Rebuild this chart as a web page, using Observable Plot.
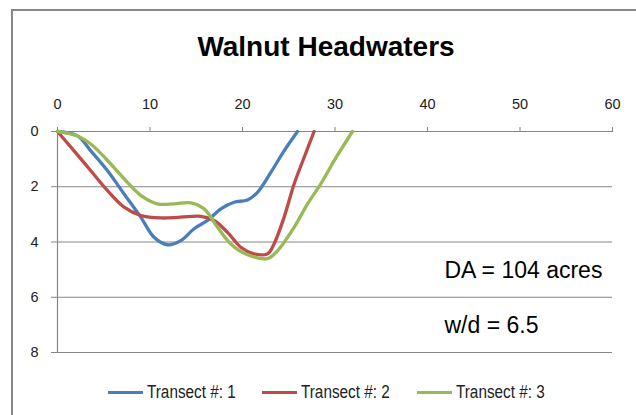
<!DOCTYPE html>
<html>
<head>
<meta charset="utf-8">
<script src="https://cdn.jsdelivr.net/npm/d3@7"></script>
<script src="https://cdn.jsdelivr.net/npm/@observablehq/plot@0.6"></script>
<style>
  html, body { margin: 0; padding: 0; background: #fff; overflow: hidden; }
  #wrap { position: relative; width: 636px; height: 415px; overflow: hidden; }
  #border { position: absolute; left: 11px; top: 9px; width: 700px; height: 500px;
            border: 2.5px solid #878787; box-sizing: border-box; pointer-events: none; }
  #chart { position: absolute; left: 0; top: 0; }
  .item { position: absolute; top: 381px; height: 22px; display: flex; align-items: center;
          font-family: "Liberation Sans", Arial, sans-serif; font-size: 18px; color: #222; white-space: nowrap; }
  .swatch { width: 35px; height: 3px; margin-right: 4px; }
  .lab { display: inline-block; transform: scaleX(0.85); transform-origin: left center; }
</style>
</head>
<body>
<div id="wrap">
  <div id="chart"></div>
  <div id="border"></div>
</div>
<script>
// Transect 1 (blue)
const t1x = [0, 2.16, 3.6, 5.41, 7.2, 9.0, 10.44, 11.89, 13.33, 14.77, 16.22, 17.66, 19.09, 20.54, 21.62, 23.06, 24.5, 25.95];
const t1d = [0, 0.16, 0.70, 1.42, 2.26, 3.1, 3.83, 4.1, 3.95, 3.52, 3.22, 2.8, 2.56, 2.48, 2.2, 1.48, 0.7, 0];
// Transect 2 (red)
const t2x = [0, 1.79, 3.6, 5.41, 7.2, 9.0, 11.17, 13.33, 15.5, 16.93, 18.38, 19.82, 21.25, 22.7, 23.42, 24.5, 25.58, 26.66, 27.74];
const t2d = [0, 0.7, 1.42, 2.14, 2.74, 3.04, 3.13, 3.1, 3.07, 3.22, 3.65, 4.19, 4.43, 4.43, 4.06, 3.1, 1.9, 0.94, 0];
// Transect 3 (green)
const t3x = [0, 2.16, 3.6, 5.41, 7.2, 9.0, 10.81, 12.6, 14.41, 15.85, 17.3, 18.74, 20.54, 22.7, 23.78, 25.58, 27.03, 28.46, 29.9, 31.89];
const t3d = [0, 0.16, 0.45, 1.05, 1.71, 2.31, 2.62, 2.62, 2.58, 2.8, 3.47, 4.07, 4.46, 4.6, 4.32, 3.47, 2.62, 1.9, 1.06, 0];

const seriesNames = ["Transect #: 1", "Transect #: 2", "Transect #: 3"];
const seriesColors = ["#4A7EBB", "#BE4B48", "#98B954"];
const xTicks = [0, 10, 20, 30, 40, 50, 60];
const yTicks = [0, 2, 4, 6, 8];
const titleText = "Walnut Headwaters";
const notes = ["DA = 104 acres", "w/d = 6.5"];

const series = [[t1x, t1d], [t2x, t2d], [t3x, t3d]];
const data = series.flatMap(([xs, ds], i) => xs.map((x, j) => ({x, d: ds[j], s: seriesNames[i]})));

const plot = Plot.plot({
  width: 636,
  height: 415,
  marginLeft: 57,
  marginRight: 24,
  marginTop: 131,
  marginBottom: 63,
  style: {fontFamily: "'Liberation Sans', Arial, sans-serif", fontSize: "14.5px", color: "#222", background: "transparent"},
  x: {domain: [0, 60], ticks: xTicks, axis: null},
  y: {domain: [0, 8], reverse: true, ticks: yTicks, axis: null},
  color: {domain: seriesNames, range: seriesColors},
  marks: [
    Plot.gridY(yTicks.slice(1), {stroke: "#868686", strokeOpacity: 1, strokeWidth: 1.2}),
    Plot.ruleY([0], {stroke: "#868686", strokeWidth: 1.2}),
    Plot.ruleX([0], {stroke: "#868686", strokeWidth: 1.2}),
    Plot.axisX(xTicks, {anchor: "top", tickSize: 5, tickPadding: 18, stroke: "#868686", label: null, fontSize: 14.5}),
    Plot.axisY(yTicks, {anchor: "left", tickSize: 6, tickPadding: 13, stroke: "#868686", label: null, fontSize: 14.5}),
    Plot.line(data, {x: "x", y: "d", z: "s", stroke: "s", strokeWidth: 3.3, curve: "catmull-rom"}),
    Plot.text([titleText], {frameAnchor: "top", dx: -9, dy: -84, lineAnchor: "middle", fontSize: 28, fontWeight: "bold", fill: "#000"}),
    Plot.text([notes[0]], {frameAnchor: "top-left", dx: 387, dy: 139, textAnchor: "start", lineAnchor: "middle", fontSize: 23, fill: "#000"}),
    Plot.text([notes[1]], {frameAnchor: "top-left", dx: 387, dy: 194, textAnchor: "start", lineAnchor: "middle", fontSize: 23, fill: "#000"})
  ]
});
document.getElementById("chart").appendChild(plot);

const wrap = document.getElementById("wrap");
const legendLefts = [108, 262, 417];
seriesNames.forEach((name, i) => {
  const item = document.createElement("div");
  item.className = "item";
  item.style.left = legendLefts[i] + "px";
  const sw = document.createElement("span");
  sw.className = "swatch";
  sw.style.background = seriesColors[i];
  const label = document.createElement("span");
  label.className = "lab";
  label.textContent = name;
  item.appendChild(sw);
  item.appendChild(label);
  wrap.appendChild(item);
});
</script>
</body>
</html>
